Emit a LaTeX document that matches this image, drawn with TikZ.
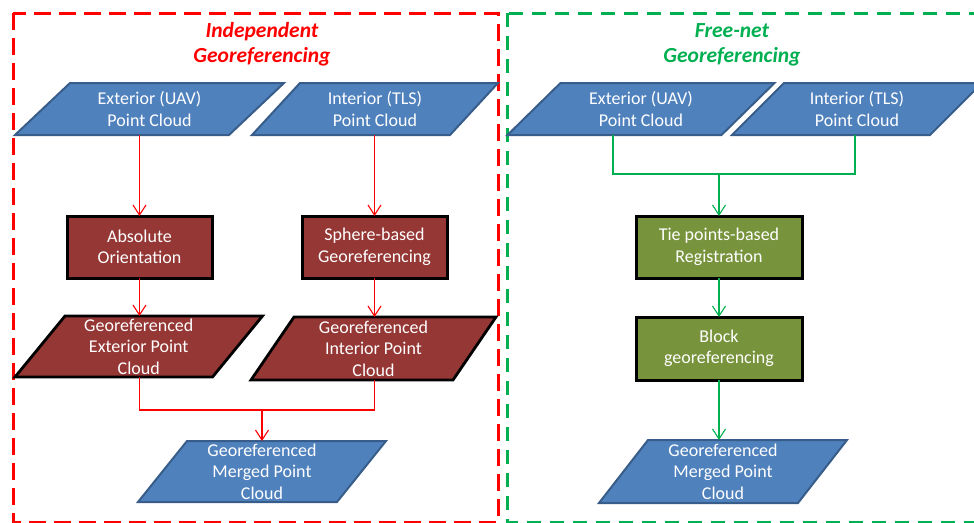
\documentclass[tikz,border=0pt]{standalone}
\usepackage{fontspec}
\setmainfont{Carlito}
\usetikzlibrary{arrows.meta,calc}
\definecolor{pblue}{HTML}{4F81BD}
\definecolor{pblueb}{HTML}{385D8A}
\definecolor{pbrown}{HTML}{953735}
\definecolor{pgreen}{HTML}{77933C}
\definecolor{lred}{HTML}{FF0000}
\definecolor{lgreen}{HTML}{00B050}
\tikzset{
  bluepar/.style={fill=pblue,draw=pblueb,line width=2pt,line join=miter},
  brownpar/.style={fill=pbrown,draw=black,line width=2.8pt,line join=miter},
  ptext/.style={inner sep=0pt,outer sep=0pt,align=center,text=white,
    font=\fontsize{18}{21.5}\selectfont},
  brownbox/.style={ptext,fill=pbrown,draw=black,line width=3pt},
  greenbox/.style={ptext,fill=pgreen,draw=black,line width=3pt},
  redarrow/.style={draw=lred,line width=1.1pt,-{Straight Barb[length=10pt,width=13pt]}},
  greenarrow/.style={draw=lgreen,line width=1.1pt,-{Straight Barb[length=10pt,width=13pt]}},
  redline/.style={draw=lred,line width=1.1pt},
  greenline/.style={draw=lgreen,line width=1.1pt},
  titletext/.style={align=center,font=\fontsize{21.5}{25}\selectfont\bfseries\itshape},
}
% name, cx, cy, w, h, slant, style, text
\newcommand{\pgram}[8]{%
  \draw[#7] ({#2-#4/2-#6/2},{#3+#5/2}) -- ({#2+#4/2-#6/2},{#3+#5/2})
     -- ({#2+#4/2+#6/2},{#3-#5/2}) -- ({#2-#4/2+#6/2},{#3-#5/2}) -- cycle;
  \node[ptext,minimum width={#4-#6},minimum height=#5] (#1) at (#2,#3) {#8};}
\begin{document}
\begin{tikzpicture}[x=1pt,y=-1pt]
\useasboundingbox (0,0) rectangle (974,522);
\clip (0,0) rectangle (974,522);
% frames
\draw[lred,line width=3pt,dash pattern=on 17pt off 8pt] (13,13) rectangle (498,522);
\draw[lgreen,line width=3pt,dash pattern=on 14pt off 9pt] (507,13) rectangle (995,522);
% titles
\node[titletext,text=lred] (t1) at (262,44.5) {Independent\\Georeferencing};
\node[titletext,text=lgreen] (t2) at (732,44.5) {Free-net\\Georeferencing};
% left column
\pgram{extL}{149.5}{109}{214}{52}{55}{bluepar}{Exterior (UAV)\\Point Cloud}
\pgram{intL}{375}{109}{198}{52}{48}{bluepar}{Interior (TLS)\\Point Cloud}
\node[brownbox,minimum width=145,minimum height=62] (abs) at (139.5,247) {Absolute\\Orientation};
\node[brownbox,minimum width=145,minimum height=62] (sph) at (374.5,247) {Sphere-based\\Georeferencing};
\pgram{gext}{138.75}{346.5}{197.5}{61}{50}{brownpar}{Georeferenced\\Exterior Point\\Cloud}
\pgram{gint}{373.5}{348.5}{202}{63}{43}{brownpar}{Georeferenced\\Interior Point\\Cloud}
\pgram{mergeL}{262}{471.5}{199}{61}{49}{bluepar}{Georeferenced\\Merged Point\\Cloud}
% right column
\pgram{extR}{641}{109}{214}{52}{53}{bluepar}{Exterior (UAV)\\Point Cloud}
\pgram{intR}{857}{109}{198}{52}{52}{bluepar}{Interior (TLS)\\Point Cloud}
\node[greenbox,minimum width=166,minimum height=62] (tie) at (719,247) {Tie points-based\\Registration};
\node[greenbox,minimum width=166,minimum height=63] (blk) at (719,348.5) {Block\\georeferencing};
\pgram{mergeR}{723}{471.5}{199}{63}{49}{bluepar}{Georeferenced\\Merged Point\\Cloud}
% left connectors
\draw[redarrow] (extL.south -| abs.north) -- (abs.north);
\draw[redarrow] (intL.south -| sph.north) -- (sph.north);
\draw[redarrow] (abs.south) -- (abs.south |- gext.north);
\draw[redarrow] (sph.south) -- (sph.south |- gint.north);
\coordinate (jl) at (mergeL.north |- 0,410);
\draw[redline] (gext.south -| abs.south) |- (jl);
\draw[redline] (gint.south -| sph.south) |- (jl);
\draw[redarrow] (jl) -- (mergeL.north);
% right connectors
\coordinate (jr) at (tie.north |- 0,174);
\draw[greenline] ($(extR.south)+(-28,0)$) |- (jr);
\draw[greenline] ($(intR.south)+(-2,0)$) |- (jr);
\draw[greenarrow] (jr) -- (tie.north);
\draw[greenarrow] (tie.south) -- (blk.north);
\draw[greenarrow] (blk.south) -- (blk.south |- mergeR.north);
\end{tikzpicture}
\end{document}
